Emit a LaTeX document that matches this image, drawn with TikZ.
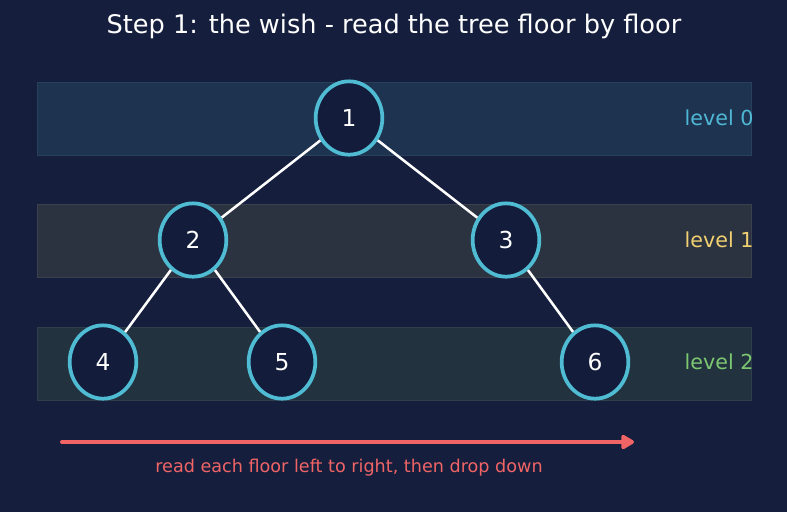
\documentclass[tikz,border=0pt]{standalone}
\usepackage{fontspec}
\setmainfont{DejaVu Sans}
\usetikzlibrary{shapes.geometric,arrows.meta}

\definecolor{bgnavy}{HTML}{151F3D}
\definecolor{nodefill}{HTML}{131D3B}
\definecolor{ringcyan}{HTML}{4FBCD4}
\definecolor{lvlzero}{HTML}{4FB8D4}
\definecolor{lvlone}{HTML}{F0D070}
\definecolor{lvltwo}{HTML}{7CC870}
\definecolor{salmon}{HTML}{F06466}

\tikzset{
  treenode/.style={ellipse, draw=ringcyan, line width=2.8pt, fill=nodefill,
    minimum width=50pt, minimum height=55pt, inner sep=0pt,
    text=white, font=\fontsize{17.5}{20}\selectfont},
  treeedge/.style={draw=white, line width=1.9pt},
  band/.style={line width=0.7pt},
  lvltext/.style={anchor=west, font=\fontsize{15.5}{18}\selectfont}
}

\begin{document}
\begin{tikzpicture}[x=0.75pt, y=-0.75pt]
			% Background
			\fill[bgnavy] (0,0) rectangle (787,512);
			\useasboundingbox (0,0) rectangle (787,512);

			% Title
			\node[text=white, font=\fontsize{19.2}{23}\selectfont] (title) at (394,26) {Step 1: the wish - read the tree floor by floor};

			% Level bands
			\draw[band, fill={rgb,255:red,30;green,51;blue,80}, draw={rgb,255:red,40;green,64;blue,92}] (37,82) rectangle (751,155);
			\draw[band, fill={rgb,255:red,44;green,51;blue,64}, draw={rgb,255:red,58;green,64;blue,76}] (37,204) rectangle (751,277);
			\draw[band, fill={rgb,255:red,34;green,50;blue,63}, draw={rgb,255:red,46;green,62;blue,74}] (37,327) rectangle (751,400);

			\node[lvltext, text=lvlzero] (lv0) at (680,118) {level 0};
			\node[lvltext, text=lvlone] (lv1) at (680,240) {level 1};
			\node[lvltext, text=lvltwo] (lv2) at (680,362) {level 2};

			% Nodes
			\node[treenode] (n1) at (349,118) {1};
			\node[treenode] (n2) at (193,240) {2};
			\node[treenode] (n3) at (506,240) {3};
			\node[treenode] (n4) at (103,362) {4};
			\node[treenode] (n5) at (282,362) {5};
			\node[treenode] (n6) at (595,362) {6};

			% Links
			\draw[treeedge] (n1) -- (n2);
			\draw[treeedge] (n1) -- (n3);
			\draw[treeedge] (n2) -- (n4);
			\draw[treeedge] (n2) -- (n5);
			\draw[treeedge] (n3) -- (n6);

			% Reading direction
			\coordinate (arrstart) at (62,442);
			\coordinate (arrend) at (634,442);
			\draw[salmon, line width=3pt, line cap=round, -{Triangle[length=11pt,width=12pt,round]}] (arrstart) -- (arrend);
			\node[text=salmon, font=\fontsize{13.2}{16}\selectfont] (caption) at (349,468) {read each floor left to right, then drop down};
		\end{tikzpicture}
\end{document}
